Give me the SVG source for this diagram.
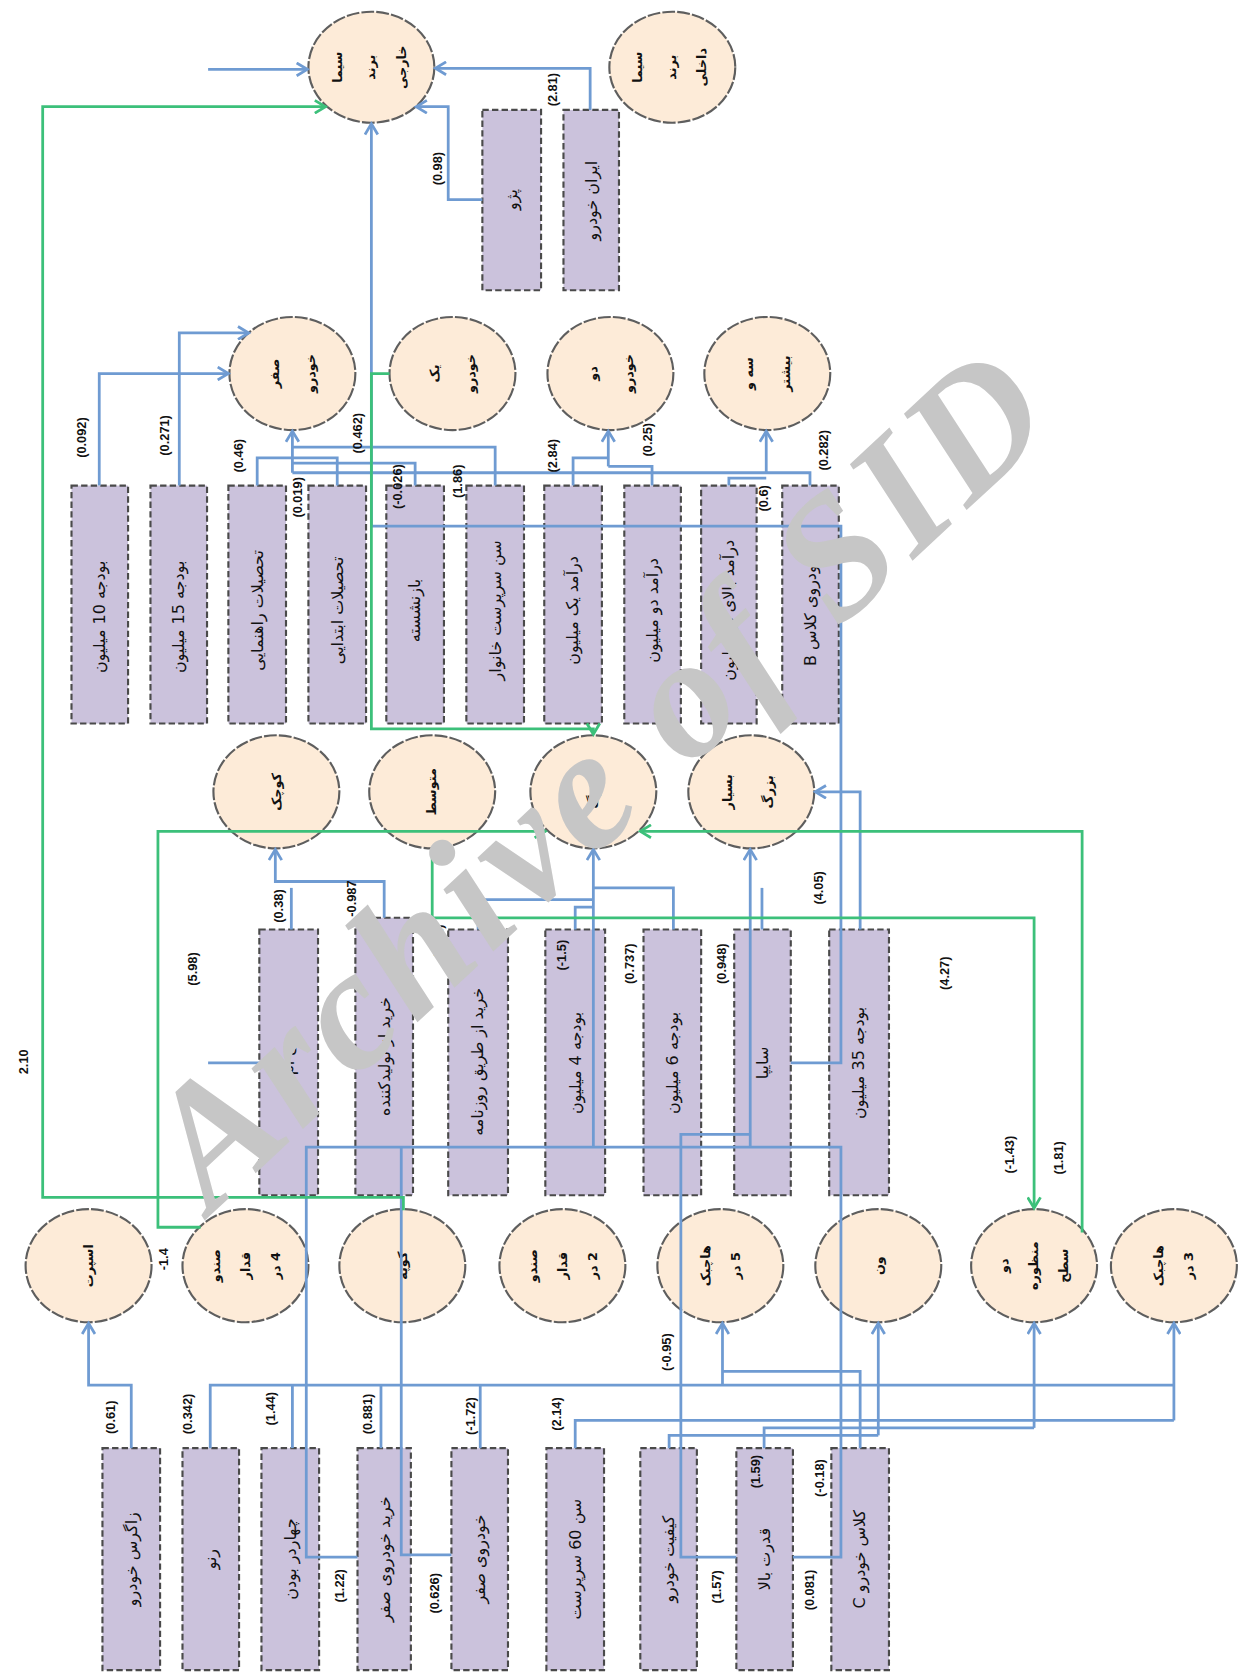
<svg xmlns="http://www.w3.org/2000/svg" width="1239" height="1673" viewBox="0 0 1239 1673">
<style>
.r{fill:#cbc2dc;stroke:#4a4a4a;stroke-width:2;stroke-dasharray:6 3}
.c{fill:#fdebd8;stroke:#5e5e5e;stroke-width:2;stroke-dasharray:12 2}
.b{fill:none;stroke:#6f9bd2;stroke-width:2.6}
.g{fill:none;stroke:#3cc07a;stroke-width:2.6}
.t{font-family:"DejaVu Sans",sans-serif;font-size:15px;fill:#111;direction:rtl}
.ct{font-family:"DejaVu Sans",sans-serif;font-size:12px;fill:#111;direction:rtl;font-weight:bold}
.n{font-family:"Liberation Sans",sans-serif;font-size:12px;font-weight:bold;fill:#111}
.wm{font-family:"Liberation Serif",serif;font-style:italic;font-weight:bold;font-size:162px;fill:#c6c6c6;letter-spacing:6px}
</style>
<defs>
<marker id="ab" markerWidth="14" markerHeight="14" refX="11" refY="7" orient="auto" markerUnits="userSpaceOnUse"><path d="M1,1 L11,7 L1,13" fill="none" stroke="#6f9bd2" stroke-width="2.6"/></marker>
<marker id="ag" markerWidth="14" markerHeight="14" refX="11" refY="7" orient="auto" markerUnits="userSpaceOnUse"><path d="M1,1 L11,7 L1,13" fill="none" stroke="#3cc07a" stroke-width="2.6"/></marker>
</defs>
<rect width="1239" height="1673" fill="#fff"/>
<g transform="scale(1.06718)">
<!-- nodes: circles -->
<g id="n-sima-kh"><ellipse class="c" cx="348" cy="63" rx="59" ry="52"/><text class="ct" transform="translate(348,63) rotate(-90)" text-anchor="middle"><tspan x="0" dy="-28">سیما</tspan><tspan x="0" dy="31">برند</tspan><tspan x="0" dy="29">خارجی</tspan></text></g>
<g id="n-sima-da"><ellipse class="c" cx="630" cy="63" rx="59" ry="52"/><text class="ct" transform="translate(630,63) rotate(-90)" text-anchor="middle"><tspan x="0" dy="-28">سیما</tspan><tspan x="0" dy="31">برند</tspan><tspan x="0" dy="29">داخلی</tspan></text></g>
<g id="n-sefr"><ellipse class="c" cx="274" cy="350" rx="59" ry="53"/><text class="ct" transform="translate(274,350) rotate(-90)" text-anchor="middle"><tspan x="0" dy="-13">صفر</tspan><tspan x="0" dy="34">خودرو</tspan></text></g>
<g id="n-yek"><ellipse class="c" cx="424" cy="350" rx="59" ry="53"/><text class="ct" transform="translate(424,350) rotate(-90)" text-anchor="middle"><tspan x="0" dy="-13">یک</tspan><tspan x="0" dy="34">خودرو</tspan></text></g>
<g id="n-do"><ellipse class="c" cx="572" cy="350" rx="59" ry="53"/><text class="ct" transform="translate(572,350) rotate(-90)" text-anchor="middle"><tspan x="0" dy="-13">دو</tspan><tspan x="0" dy="34">خودرو</tspan></text></g>
<g id="n-se"><ellipse class="c" cx="719" cy="350" rx="59" ry="53"/><text class="ct" transform="translate(719,350) rotate(-90)" text-anchor="middle"><tspan x="0" dy="-13">سه و</tspan><tspan x="0" dy="34">بیشتر</tspan></text></g>
<g id="n-kuchak"><ellipse class="c" cx="259" cy="742" rx="59" ry="53"/><text class="ct" transform="translate(259,742) rotate(-90)" text-anchor="middle" dy="4">کوچک</text></g>
<g id="n-motavaset"><ellipse class="c" cx="405" cy="742" rx="59" ry="53"/><text class="ct" transform="translate(405,742) rotate(-90)" text-anchor="middle" dy="4">متوسط</text></g>
<g id="n-bozorg"><ellipse class="c" cx="556" cy="742" rx="59" ry="53"/><text class="ct" transform="translate(556,742) rotate(-90)" text-anchor="middle" dy="4">بزرگ</text></g>
<g id="n-besyar"><ellipse class="c" cx="704" cy="742" rx="59" ry="53"/><text class="ct" transform="translate(704,742) rotate(-90)" text-anchor="middle"><tspan x="0" dy="-18">بسیار</tspan><tspan x="0" dy="38">بزرگ</tspan></text></g>
<g id="n-sport"><ellipse class="c" cx="83" cy="1186" rx="59" ry="53"/><text class="ct" transform="translate(83,1186) rotate(-90)" text-anchor="middle" dy="4">اسپرت</text></g>
<g id="n-sedan4"><ellipse class="c" cx="230" cy="1186" rx="59" ry="53"/><text class="ct" transform="translate(230,1186) rotate(-90)" text-anchor="middle"><tspan x="0" dy="-24">صندو</tspan><tspan x="0" dy="28">قدار</tspan><tspan x="0" dy="28">4 در</tspan></text></g>
<g id="n-coupe"><ellipse class="c" cx="377" cy="1186" rx="59" ry="53"/><text class="ct" transform="translate(377,1186) rotate(-90)" text-anchor="middle" dy="4">کوپه</text></g>
<g id="n-sedan2"><ellipse class="c" cx="527" cy="1186" rx="59" ry="53"/><text class="ct" transform="translate(527,1186) rotate(-90)" text-anchor="middle"><tspan x="0" dy="-24">صندو</tspan><tspan x="0" dy="28">قدار</tspan><tspan x="0" dy="28">2 در</tspan></text></g>
<g id="n-hatch5"><ellipse class="c" cx="675" cy="1186" rx="59" ry="53"/><text class="ct" transform="translate(675,1186) rotate(-90)" text-anchor="middle"><tspan x="0" dy="-10">هاچبک</tspan><tspan x="0" dy="28">5 در</tspan></text></g>
<g id="n-van"><ellipse class="c" cx="823" cy="1186" rx="59" ry="53"/><text class="ct" transform="translate(823,1186) rotate(-90)" text-anchor="middle" dy="4">ون</text></g>
<g id="n-dual"><ellipse class="c" cx="969" cy="1186" rx="59" ry="53"/><text class="ct" transform="translate(969,1186) rotate(-90)" text-anchor="middle"><tspan x="0" dy="-24">دو</tspan><tspan x="0" dy="28">منظوره</tspan><tspan x="0" dy="28">سطح</tspan></text></g>
<g id="n-hatch3"><ellipse class="c" cx="1100" cy="1186" rx="59" ry="53"/><text class="ct" transform="translate(1100,1186) rotate(-90)" text-anchor="middle"><tspan x="0" dy="-10">هاچبک</tspan><tspan x="0" dy="28">3 در</tspan></text></g>

<!-- nodes: rects -->
<g id="n-peugeot"><rect class="r" x="452" y="103" width="55" height="169"/><text class="t" transform="translate(479.5,187) rotate(-90)" text-anchor="middle" dy="5">پژو</text></g>
<g id="n-irankhodro"><rect class="r" x="528" y="103" width="52" height="169"/><text class="t" transform="translate(554,188) rotate(-90)" text-anchor="middle" dy="5">ایران خودرو</text></g>

<g id="n-b10"><rect class="r" x="67" y="455" width="53" height="223"/><text class="t" transform="translate(93.5,578) rotate(-90)" text-anchor="middle" dy="5">بودجه 10 میلیون</text></g>
<g id="n-b15"><rect class="r" x="141" y="455" width="53" height="223"/><text class="t" transform="translate(167.5,578) rotate(-90)" text-anchor="middle" dy="5">بودجه 15 میلیون</text></g>
<g id="n-rahnamaei"><rect class="r" x="214" y="455" width="54" height="223"/><text class="t" transform="translate(241,572) rotate(-90)" text-anchor="middle" dy="5">تحصیلات راهنمایی</text></g>
<g id="n-ebtedaei"><rect class="r" x="289" y="455" width="54" height="223"/><text class="t" transform="translate(316,572) rotate(-90)" text-anchor="middle" dy="5">تحصیلات ابتدایی</text></g>
<g id="n-bazneshaste"><rect class="r" x="362" y="455" width="54" height="223"/><text class="t" transform="translate(389,572) rotate(-90)" text-anchor="middle" dy="5">بازنشسته</text></g>
<g id="n-sen"><rect class="r" x="437" y="455" width="54" height="223"/><text class="t" transform="translate(464,572) rotate(-90)" text-anchor="middle" dy="5">سن سرپرست خانوار</text></g>
<g id="n-d1"><rect class="r" x="510" y="455" width="54" height="223"/><text class="t" transform="translate(537,572) rotate(-90)" text-anchor="middle" dy="5">درآمد یک میلیون</text></g>
<g id="n-d2"><rect class="r" x="585" y="455" width="53" height="223"/><text class="t" transform="translate(611.5,572) rotate(-90)" text-anchor="middle" dy="5">درآمد دو میلیون</text></g>
<g id="n-d3"><rect class="r" x="657" y="455" width="52" height="223"/><text class="t" transform="translate(683,572) rotate(-90)" text-anchor="middle" dy="5">درآمد بالای دو میلیون</text></g>
<g id="n-classb"><rect class="r" x="733" y="455" width="53" height="223"/><text class="t" transform="translate(759.5,572) rotate(-90)" text-anchor="middle" dy="5">خودروی کلاس B</text></g>

<g id="n-bmw"><rect class="r" x="243" y="871" width="55" height="249"/><text class="t" transform="translate(270.5,996) rotate(-90)" text-anchor="middle" dy="5">بی ام و</text></g>
<g id="n-producer"><rect class="r" x="333" y="860" width="54" height="260"/><text class="t" transform="translate(360,990) rotate(-90)" text-anchor="middle" dy="5">خرید از تولیدکننده</text></g>
<g id="n-paper"><rect class="r" x="420" y="871" width="56" height="249"/><text class="t" transform="translate(448,995) rotate(-90)" text-anchor="middle" dy="5">خرید از طریق روزنامه</text></g>
<g id="n-b4"><rect class="r" x="511" y="871" width="56" height="249"/><text class="t" transform="translate(539,996) rotate(-90)" text-anchor="middle" dy="5">بودجه 4 میلیون</text></g>
<g id="n-b6"><rect class="r" x="603" y="871" width="54" height="249"/><text class="t" transform="translate(630,996) rotate(-90)" text-anchor="middle" dy="5">بودجه 6 میلیون</text></g>
<g id="n-saipa"><rect class="r" x="688" y="871" width="53" height="249"/><text class="t" transform="translate(714.5,996) rotate(-90)" text-anchor="middle" dy="5">سایپا</text></g>
<g id="n-b35"><rect class="r" x="777" y="871" width="56" height="249"/><text class="t" transform="translate(805,996) rotate(-90)" text-anchor="middle" dy="5">بودجه 35 میلیون</text></g>

<g id="n-zagros"><rect class="r" x="96" y="1357" width="54" height="208"/><text class="t" transform="translate(123,1461) rotate(-90)" text-anchor="middle" dy="5">زاگرس خودرو</text></g>
<g id="n-renault"><rect class="r" x="171" y="1357" width="53" height="208"/><text class="t" transform="translate(197.5,1461) rotate(-90)" text-anchor="middle" dy="5">رنو</text></g>
<g id="n-4door"><rect class="r" x="245" y="1357" width="54" height="208"/><text class="t" transform="translate(272,1461) rotate(-90)" text-anchor="middle" dy="5">چهاردر بودن</text></g>
<g id="n-buynew"><rect class="r" x="335" y="1357" width="50" height="208"/><text class="t" transform="translate(360,1461) rotate(-90)" text-anchor="middle" dy="5">خرید خودروی صفر</text></g>
<g id="n-newcar"><rect class="r" x="423" y="1357" width="53" height="208"/><text class="t" transform="translate(449.5,1461) rotate(-90)" text-anchor="middle" dy="5">خودروی صفر</text></g>
<g id="n-age60"><rect class="r" x="512" y="1357" width="54" height="208"/><text class="t" transform="translate(539,1461) rotate(-90)" text-anchor="middle" dy="5">سن 60 سرپرست</text></g>
<g id="n-quality"><rect class="r" x="600" y="1357" width="53" height="208"/><text class="t" transform="translate(626.5,1461) rotate(-90)" text-anchor="middle" dy="5">کیفیت خودرو</text></g>
<g id="n-power"><rect class="r" x="690" y="1357" width="53" height="208"/><text class="t" transform="translate(716.5,1461) rotate(-90)" text-anchor="middle" dy="5">قدرت بالا</text></g>
<g id="n-classc"><rect class="r" x="779" y="1357" width="54" height="208"/><text class="t" transform="translate(806,1461) rotate(-90)" text-anchor="middle" dy="5">کلاس خودرو C</text></g>

<!-- connectors -->
<g id="connectors">
<path class="b" d="M195,65 H288" marker-end="url(#ab)"/>
<path class="b" d="M553,103 V64 H408" marker-end="url(#ab)"/>
<path class="b" d="M452,187 H420 V100 H390" marker-end="url(#ab)"/>
<path class="b" d="M741,996 H788 V493 H348 V116" marker-end="url(#ab)"/>
<path class="b" d="M93,455 V350 H214" marker-end="url(#ab)"/>
<path class="b" d="M168,455 V312 H233" marker-end="url(#ab)"/>
<path class="b" d="M464,455 V419 H274"/>
<path class="b" d="M241,455 V429 H316 V455"/>
<path class="b" d="M389,455 V434 H274"/>
<path class="b" d="M759,455 V443 H274"/>
<path class="b" d="M274,443 V404" marker-end="url(#ab)"/>
<path class="b" d="M537,455 V429 H570"/>
<path class="b" d="M611,455 V437 H570"/>
<path class="b" d="M570,437 V404" marker-end="url(#ab)"/>
<path class="b" d="M683,455 V448 H718"/>
<path class="b" d="M718,443 V404" marker-end="url(#ab)"/>
<path class="b" d="M360,860 V826 H258 V796" marker-end="url(#ab)"/>
<path class="b" d="M273,871 V832"/>
<path class="b" d="M243,996 H195"/>
<path class="b" d="M448,871 V843 H556"/>
<path class="b" d="M539,871 V850 H556"/>
<path class="b" d="M631,871 V832 H556"/>
<path class="b" d="M556,1075 V796" marker-end="url(#ab)"/>
<path class="b" d="M703,1075 V796" marker-end="url(#ab)"/>
<path class="b" d="M714,871 V832"/>
<path class="b" d="M806,871 V742 H764" marker-end="url(#ab)"/>
<path class="b" d="M335,1459 H287 V1075 H788 V1459 H743"/>
<path class="b" d="M376,1075 V1457 H423"/>
<path class="b" d="M690,1459 H638 V1063 H703"/>
<path class="b" d="M123,1357 V1298 H83 V1240" marker-end="url(#ab)"/>
<path class="b" d="M197,1357 V1298 H1100"/>
<path class="b" d="M274,1357 V1298"/>
<path class="b" d="M357,1357 V1298"/>
<path class="b" d="M450,1357 V1298"/>
<path class="b" d="M539,1357 V1331 H1100"/>
<path class="b" d="M1100,1331 V1240" marker-end="url(#ab)"/>
<path class="b" d="M806,1357 V1285 H677"/>
<path class="b" d="M677,1298 V1240" marker-end="url(#ab)"/>
<path class="b" d="M716,1357 V1338 H969"/>
<path class="b" d="M969,1338 V1240" marker-end="url(#ab)"/>
<path class="b" d="M627,1357 V1345 H823"/>
<path class="b" d="M823,1345 V1240" marker-end="url(#ab)"/>
<path class="g" d="M378,1134 V1122 H40 V100 H305" marker-end="url(#ag)"/>
<path class="g" d="M365,350 H348 V683 H556 V688" marker-end="url(#ag)"/>
<path class="g" d="M188,1150 H148 V779 H511" marker-end="url(#ag)"/>
<path class="g" d="M1014,1155 V779 H600" marker-end="url(#ag)"/>
<path class="g" d="M405,795 V860 H969 V1132" marker-end="url(#ag)"/>
</g>

<!-- labels -->
<g id="labels">
<text class="n" transform="translate(410,158) rotate(-90)" text-anchor="middle" dy="4">(0.98)</text>
<text class="n" transform="translate(518,84) rotate(-90)" text-anchor="middle" dy="4">(2.81)</text>
<text class="n" transform="translate(77,410) rotate(-90)" text-anchor="middle" dy="4">(0.092)</text>
<text class="n" transform="translate(154,408) rotate(-90)" text-anchor="middle" dy="4">(0.271)</text>
<text class="n" transform="translate(224,427) rotate(-90)" text-anchor="middle" dy="4">(0.46)</text>
<text class="n" transform="translate(279,466) rotate(-90)" text-anchor="middle" dy="4">(0.019)</text>
<text class="n" transform="translate(335,406) rotate(-90)" text-anchor="middle" dy="4">(0.462)</text>
<text class="n" transform="translate(373,456) rotate(-90)" text-anchor="middle" dy="4">(-0.026)</text>
<text class="n" transform="translate(429,451) rotate(-90)" text-anchor="middle" dy="4">(1.86)</text>
<text class="n" transform="translate(518,427) rotate(-90)" text-anchor="middle" dy="4">(2.84)</text>
<text class="n" transform="translate(607,412) rotate(-90)" text-anchor="middle" dy="4">(0.25)</text>
<text class="n" transform="translate(716,467) rotate(-90)" text-anchor="middle" dy="4">(0.6)</text>
<text class="n" transform="translate(772,422) rotate(-90)" text-anchor="middle" dy="4">(0.282)</text>
<text class="n" transform="translate(261,849) rotate(-90)" text-anchor="middle" dy="4">(0.38)</text>
<text class="n" transform="translate(330,842) rotate(-90)" text-anchor="middle" dy="4">-0.987</text>
<text class="n" transform="translate(411,882) rotate(-90)" text-anchor="middle" dy="4">(1.61)</text>
<text class="n" transform="translate(526,895) rotate(-90)" text-anchor="middle" dy="4">(-1.5)</text>
<text class="n" transform="translate(181,908) rotate(-90)" text-anchor="middle" dy="4">(5.98)</text>
<text class="n" transform="translate(22,995) rotate(-90)" text-anchor="middle" dy="4">2.10</text>
<text class="n" transform="translate(590,903) rotate(-90)" text-anchor="middle" dy="4">(0.737)</text>
<text class="n" transform="translate(676,903) rotate(-90)" text-anchor="middle" dy="4">(0.948)</text>
<text class="n" transform="translate(767,832) rotate(-90)" text-anchor="middle" dy="4">(4.05)</text>
<text class="n" transform="translate(885,912) rotate(-90)" text-anchor="middle" dy="4">(4.27)</text>
<text class="n" transform="translate(946,1082) rotate(-90)" text-anchor="middle" dy="4">(-1.43)</text>
<text class="n" transform="translate(992,1085) rotate(-90)" text-anchor="middle" dy="4">(1.81)</text>
<text class="n" transform="translate(153,1180) rotate(-90)" text-anchor="middle" dy="4">-1.4</text>
<text class="n" transform="translate(104,1328) rotate(-90)" text-anchor="middle" dy="4">(0.61)</text>
<text class="n" transform="translate(176,1325) rotate(-90)" text-anchor="middle" dy="4">(0.342)</text>
<text class="n" transform="translate(254,1320) rotate(-90)" text-anchor="middle" dy="4">(1.44)</text>
<text class="n" transform="translate(345,1325) rotate(-90)" text-anchor="middle" dy="4">(0.881)</text>
<text class="n" transform="translate(441,1327) rotate(-90)" text-anchor="middle" dy="4">(-1.72)</text>
<text class="n" transform="translate(522,1325) rotate(-90)" text-anchor="middle" dy="4">(2.14)</text>
<text class="n" transform="translate(318,1486) rotate(-90)" text-anchor="middle" dy="4">(1.22)</text>
<text class="n" transform="translate(407,1493) rotate(-90)" text-anchor="middle" dy="4">(0.626)</text>
<text class="n" transform="translate(625,1267) rotate(-90)" text-anchor="middle" dy="4">(-0.95)</text>
<text class="n" transform="translate(708,1379) rotate(-90)" text-anchor="middle" dy="4">(1.59)</text>
<text class="n" transform="translate(768,1385) rotate(-90)" text-anchor="middle" dy="4">(-0.18)</text>
<text class="n" transform="translate(672,1487) rotate(-90)" text-anchor="middle" dy="4">(1.57)</text>
<text class="n" transform="translate(759,1490) rotate(-90)" text-anchor="middle" dy="4">(0.081)</text>
</g>

<text class="wm" transform="translate(198,1138) rotate(-43)">Archive of SID</text>
</g>
</svg>
